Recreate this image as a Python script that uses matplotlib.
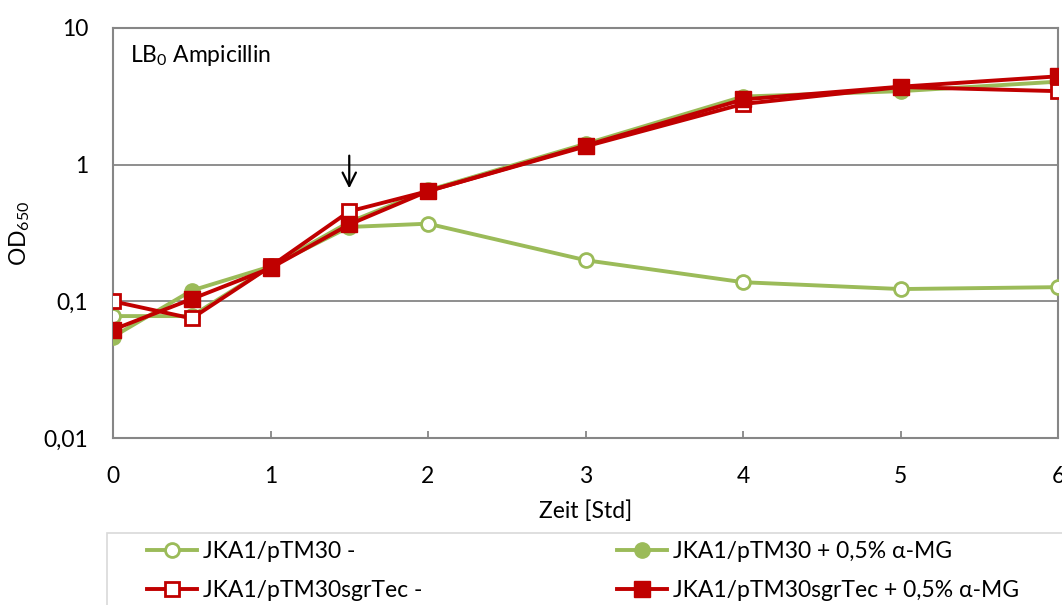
import matplotlib
matplotlib.use("Agg")
import matplotlib.pyplot as plt
from matplotlib.ticker import FixedLocator, NullLocator
from matplotlib.patches import Rectangle

plt.rcParams['font.family'] = ['Lato', 'DejaVu Sans']
plt.rcParams['mathtext.fontset'] = 'custom'
plt.rcParams['mathtext.rm'] = 'Lato'

time_h = [0, 0.5, 1, 1.5, 2, 3, 4, 5, 6]
pTM30_minus = [0.078, 0.078, 0.18, 0.35, 0.37, 0.20, 0.138, 0.123, 0.127]
pTM30_mg = [0.055, 0.12, 0.18, 0.38, 0.65, 1.42, 3.15, 3.45, 4.05]
sgrTec_minus = [0.10, 0.075, 0.18, 0.455, 0.64, 1.36, 2.78, 3.70, 3.45]
sgrTec_mg = [0.062, 0.104, 0.175, 0.365, 0.64, 1.38, 3.00, 3.72, 4.43]

labels = ["JKA1/pTM30 -", "JKA1/pTM30 + 0,5% α-MG",
          "JKA1/pTM30sgrTec -", "JKA1/pTM30sgrTec + 0,5% α-MG"]
y_ticks = [0.01, 0.1, 1, 10]
y_ticklabels = ["0,01", "0,1", "1", "10"]
x_ticks = [0, 1, 2, 3, 4, 5, 6]

GREEN = "#9BBB59"
RED = "#C00000"
GRID = "#868686"
FS = 16.5

W, H = 1062, 605
fig = plt.figure(figsize=(W/100, H/100), dpi=100)
ax = fig.add_axes([113/W, 1-438/H, (1058-113)/W, (438-28)/H])

lw = 2.8
h0, = ax.plot(time_h, pTM30_minus, color=GREEN, lw=lw, marker='o', ms=10,
              mfc='white', mec=GREEN, mew=2.0, zorder=3)
h1, = ax.plot(time_h, pTM30_mg, color=GREEN, lw=lw, marker='o', ms=11,
              mfc=GREEN, mec=GREEN, zorder=3)
h2, = ax.plot(time_h, sgrTec_minus, color=RED, lw=lw, marker='s', ms=10,
              mfc='white', mec=RED, mew=2.0, zorder=4)
h3, = ax.plot(time_h, sgrTec_mg, color=RED, lw=lw, marker='s', ms=11,
              mfc=RED, mec=RED, zorder=4)

ax.set_yscale('log')
ax.set_ylim(0.01, 10)
ax.set_xlim(0, 6)
ax.yaxis.set_major_locator(FixedLocator(y_ticks))
ax.yaxis.set_minor_locator(NullLocator())
ax.set_yticklabels(y_ticklabels)
ax.set_xticks(x_ticks)
ax.set_xticklabels([str(v) for v in x_ticks])
ax.tick_params(axis='y', length=0, pad=18, labelsize=FS, colors='black')
ax.tick_params(axis='x', direction='in', length=5, width=1.3, color=GRID,
               pad=20, labelsize=FS, labelcolor='black')
ax.grid(axis='y', which='major', color=GRID, lw=1.3, zorder=0)
for s in ax.spines.values():
    s.set_color(GRID)
    s.set_linewidth(1.5)
ax.set_axisbelow(True)

ax.set_xlabel("Zeit [Std]", fontsize=FS)
ax.xaxis.set_label_coords(0.5, -(500-438)/410)
ax.set_ylabel(r"OD$_\mathregular{650}$", fontsize=FS)
ax.yaxis.set_label_coords((32-113)/945, 0.5)

ax.text(0.018, 1-(55-28)/410, r"LB$_\mathregular{0}$ Ampicillin", transform=ax.transAxes,
        fontsize=FS, va='center', ha='left')

ax.annotate("", xy=(1.5, 0.64), xytext=(1.5, 1.22),
            arrowprops=dict(arrowstyle='->', color='black', lw=1.6,
                            mutation_scale=24), zorder=6)

# legend frame
fig.patches.append(Rectangle((107/W, 1-620/H), (1075-107)/W, (620-533)/H,
                             transform=fig.transFigure, fill=False,
                             edgecolor="#D9D9D9", lw=1.2))
common = dict(loc='center left', fontsize=FS, frameon=False, borderpad=0,
              handlelength=2.2, handletextpad=0.25, labelspacing=0.8,
              borderaxespad=0)
legA = fig.legend([h0, h2], [labels[0], labels[2]],
                  bbox_to_anchor=(147/W, 1-571/H), **common)
legB = fig.legend([h1, h3], [labels[1], labels[3]],
                  bbox_to_anchor=(617/W, 1-571/H), **common)

fig.savefig("out.png", dpi=100)
